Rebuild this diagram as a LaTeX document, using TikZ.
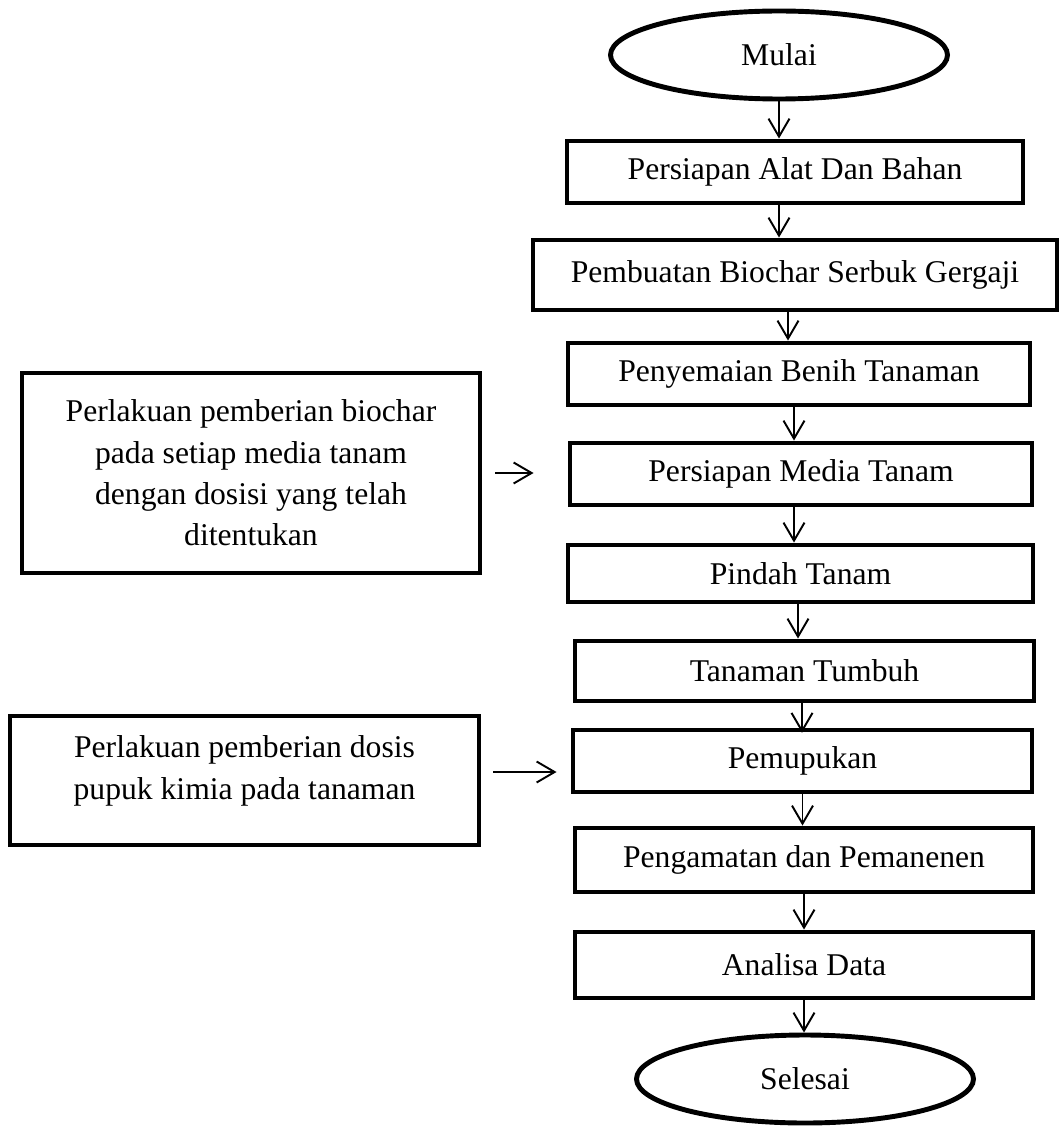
\documentclass[tikz,border=0pt]{standalone}
\usepackage{fontspec}
\setmainfont{Liberation Serif}
\usetikzlibrary{arrows.meta,shapes.geometric}
\definecolor{flowInk}{HTML}{000000}
\tikzset{
  flowBox/.style={
    draw=flowInk,
    line width=2.8pt,
    rectangle,
    align=center,
    inner sep=2pt,
    text=flowInk,
    font=\fontsize{18}{23.5}\selectfont
  },
  flowTerm/.style={
    flowBox,
    ellipse,
    minimum width=6.74cm,
    minimum height=1.76cm
  },
  flowNote/.style={
    flowBox,
    line width=2.6pt
  },
  flowArrow/.style={
    -{Straight Barb[length=3.6mm,width=4.2mm]},
    line width=1.1pt,
    draw=flowInk
  }
}
\begin{document}
\begin{tikzpicture}[x=1cm,y=1cm]
\useasboundingbox (0,0) rectangle (21.16,-22.52);

% Main flow.
\node[flowTerm] (mulai) at (15.58,-1.10) {Mulai};
\node[flowBox, minimum width=9.12cm, minimum height=1.24cm] (alat) at (15.90,-3.44)
  {Persiapan Alat Dan Bahan};
\node[flowBox, minimum width=10.48cm, minimum height=1.40cm] (biochar) at (15.90,-5.50)
  {Pembuatan Biochar Serbuk Gergaji};
\node[flowBox, minimum width=9.24cm, minimum height=1.24cm] (semai) at (15.98,-7.48)
  {Penyemaian Benih Tanaman};
\node[flowBox, minimum width=9.24cm, minimum height=1.24cm] (media) at (16.02,-9.48)
  {Persiapan Media Tanam};
\node[flowBox, minimum width=9.30cm, minimum height=1.14cm] (pindah) at (16.01,-11.47)
  {Pindah Tanam};
\node[flowBox, minimum width=9.18cm, minimum height=1.20cm] (tumbuh) at (16.09,-13.42)
  {Tanaman Tumbuh};
\node[flowBox, minimum width=9.18cm, minimum height=1.24cm] (pupuk) at (16.05,-15.22)
  {Pemupukan};
\node[flowBox, minimum width=9.16cm, minimum height=1.28cm] (panen) at (16.08,-17.20)
  {Pengamatan dan Pemanenen};
\node[flowBox, minimum width=9.16cm, minimum height=1.32cm] (analisa) at (16.08,-19.30)
  {Analisa Data};
\node[flowTerm] (selesai) at (16.10,-21.58) {Selesai};

\draw[flowArrow] (mulai.south) -- (mulai.south |- alat.north);
\draw[flowArrow] ([xshift=-0.32cm]alat.south) -- ([xshift=-0.32cm]alat.south |- biochar.north);
\draw[flowArrow] ([xshift=-0.14cm]biochar.south) -- ([xshift=-0.14cm]biochar.south |- semai.north);
\draw[flowArrow] ([xshift=-0.10cm]semai.south) -- ([xshift=-0.10cm]semai.south |- media.north);
\draw[flowArrow] ([xshift=-0.14cm]media.south) -- ([xshift=-0.14cm]media.south |- pindah.north);
\draw[flowArrow] ([xshift=-0.05cm]pindah.south) -- ([xshift=-0.05cm]pindah.south |- tumbuh.north);
\draw[flowArrow, shorten >=-3pt] ([xshift=-0.05cm]tumbuh.south) -- ([xshift=-0.05cm]tumbuh.south |- pupuk.north);
\draw[flowArrow] (pupuk.south) -- (pupuk.south |- panen.north);
\draw[flowArrow] (panen.south) -- (panen.south |- analisa.north);
\draw[flowArrow] (analisa.south) -- (analisa.south |- selesai.north);

% Side treatments.
\node[flowNote, minimum width=9.16cm, minimum height=4.00cm] (perlakuanbio) at (5.02,-9.46)
  {Perlakuan pemberian biochar\\pada setiap media tanam\\dengan dosisi yang telah\\ditentukan};
\node[flowNote, minimum width=9.38cm, minimum height=2.58cm, text depth=0.52cm] (perlakuanpupuk) at (4.89,-15.61)
  {Perlakuan pemberian dosis\\pupuk kimia pada tanaman};
\coordinate (pupukIn) at ([yshift=0.17cm]perlakuanpupuk.east);

\draw[flowArrow] ([xshift=0.26cm]perlakuanbio.east) -- ([xshift=-0.68cm]media.west |- perlakuanbio.east);
\draw[flowArrow] ([xshift=0.24cm]pupukIn) -- ([xshift=-0.28cm]pupuk.west |- pupukIn);

\end{tikzpicture}
\end{document}
